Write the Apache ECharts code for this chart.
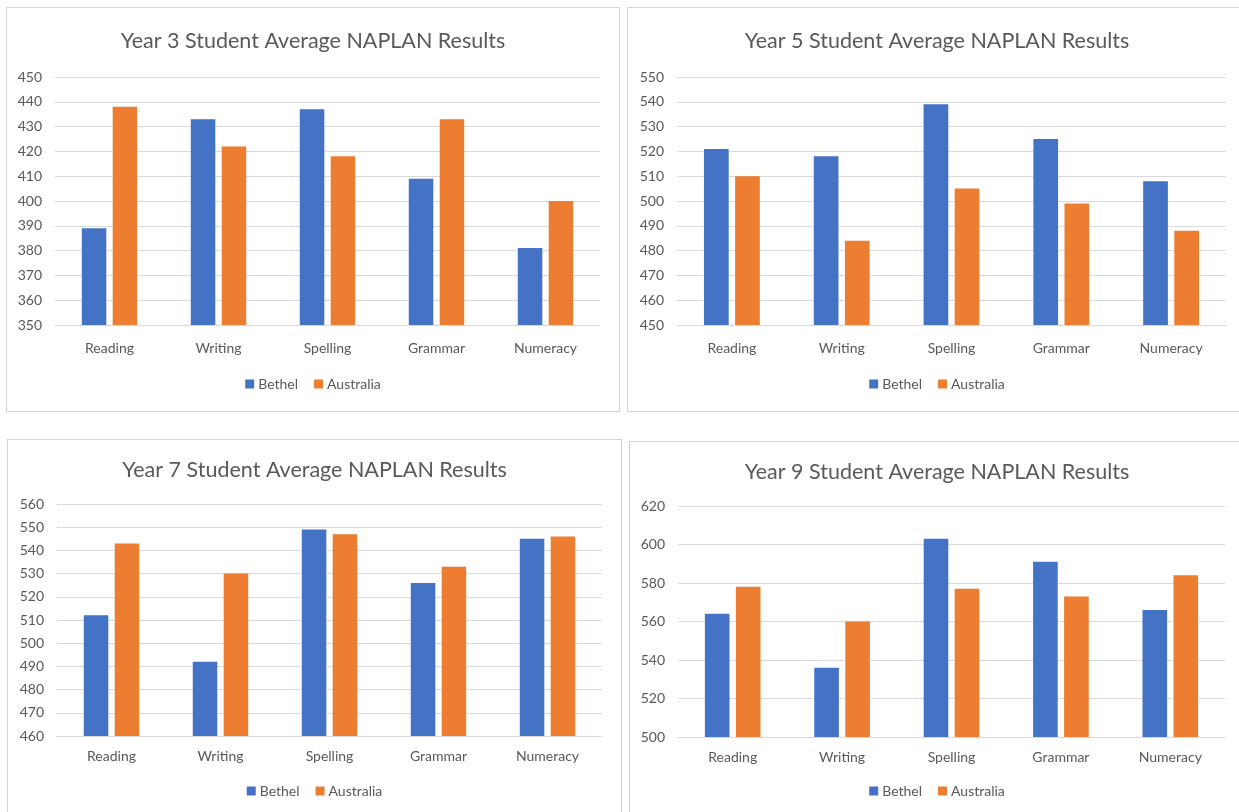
<!DOCTYPE html>
<html>
<head>
<meta charset="utf-8">
<script src="https://cdn.jsdelivr.net/npm/echarts@6/dist/echarts.min.js"></script>
<style>
html,body{margin:0;padding:0;background:#fff;overflow:hidden;width:1239px;height:812px;}
.panel{position:absolute;box-sizing:border-box;border:1px solid #D4D4D4;background:#fff;}
</style>
</head>
<body>
<div id="p1" class="panel" style="left:6px;top:7px;width:614px;height:405px;"></div>
<div id="p2" class="panel" style="left:627px;top:7px;width:620px;height:405px;"></div>
<div id="p3" class="panel" style="left:7px;top:439px;width:615px;height:410px;"></div>
<div id="p4" class="panel" style="left:629px;top:441px;width:616px;height:410px;"></div>
<script>
const categories = ['Reading', 'Writing', 'Spelling', 'Grammar', 'Numeracy'];
const seriesNames = ['Bethel', 'Australia'];

const titles = [
  'Year 3 Student Average NAPLAN Results',
  'Year 5 Student Average NAPLAN Results',
  'Year 7 Student Average NAPLAN Results',
  'Year 9 Student Average NAPLAN Results'
];

const year3Bethel = [389, 433, 437, 409, 381];
const year3Australia = [438, 422, 418, 433, 400];
const year5Bethel = [521, 518, 539, 525, 508];
const year5Australia = [510, 484, 505, 499, 488];
const year7Bethel = [512, 492, 549, 526, 545];
const year7Australia = [543, 530, 547, 533, 546];
const year9Bethel = [564, 536, 603, 591, 566];
const year9Australia = [578, 560, 577, 573, 584];

const yMins = [350, 450, 460, 500];
const yMaxs = [450, 550, 560, 620];
const yIntervals = [10, 10, 10, 20];

const bethelData = [year3Bethel, year5Bethel, year7Bethel, year9Bethel];
const australiaData = [year3Australia, year5Australia, year7Australia, year9Australia];

// layout (pixels, relative to each panel content box)
const layouts = [
  {grid:{left:48, top:69, width:545, height:248}, titleTop:17, legendTop:364, catMargin:16},
  {grid:{left:49, top:69, width:549, height:248}, titleTop:17, legendTop:364, catMargin:16},
  {grid:{left:49, top:64, width:545, height:232}, titleTop:14, legendTop:339, catMargin:13},
  {grid:{left:48, top:64, width:547, height:231}, titleTop:14, legendTop:337, catMargin:13}
];

const FONT = 'Lato, "Open Sans", sans-serif';
const TEXT = '#595959';
const BLUE = '#4472C4';
const ORANGE = '#ED7D31';

['p1','p2','p3','p4'].forEach(function(id, i){
  const chart = echarts.init(document.getElementById(id), null, {renderer:'canvas'});
  const L = layouts[i];
  chart.setOption({
    animation: false,
    textStyle: {fontFamily: FONT},
    title: {
      text: titles[i],
      left: 'center',
      top: L.titleTop,
      textStyle: {color: TEXT, fontSize: 21.5, fontWeight: 'normal', fontFamily: FONT}
    },
    legend: {
      data: seriesNames,
      left: 'center',
      top: L.legendTop,
      icon: 'rect',
      itemWidth: 9,
      itemHeight: 9,
      itemGap: 16,
      textStyle: {color: TEXT, fontSize: 14, fontFamily: FONT, padding:[0,0,0,-1]}
    },
    grid: L.grid,
    xAxis: {
      type: 'category',
      data: categories,
      axisLine: {show: true, lineStyle: {color: '#D9D9D9', width: 1}},
      axisTick: {show: false},
      axisLabel: {color: TEXT, fontSize: 14, margin: L.catMargin, fontFamily: FONT}
    },
    yAxis: {
      type: 'value',
      min: yMins[i],
      max: yMaxs[i],
      interval: yIntervals[i],
      axisLine: {show: false},
      axisTick: {show: false},
      axisLabel: {color: TEXT, fontSize: 14, margin: 13, fontFamily: FONT},
      splitLine: {lineStyle: {color: '#D9D9D9', width: 1}}
    },
    series: [
      {name: seriesNames[0], type: 'bar', data: bethelData[i], barWidth: '22.5%', barGap: '26%',
       itemStyle: {color: BLUE}},
      {name: seriesNames[1], type: 'bar', data: australiaData[i], barWidth: '22.5%', barGap: '26%',
       itemStyle: {color: ORANGE}}
    ]
  });
});
</script>
</body>
</html>
